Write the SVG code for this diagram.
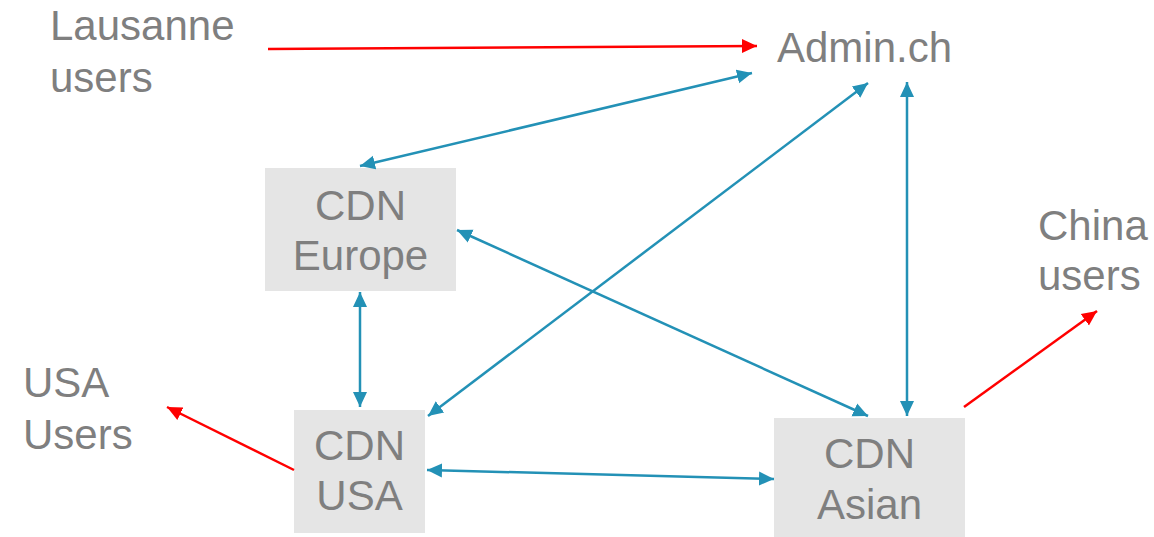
<svg xmlns="http://www.w3.org/2000/svg" width="1154" height="537" viewBox="0 0 1154 537">
<style>
.t{font-family:"Liberation Sans",Arial,sans-serif;font-size:42px;fill:#7f7f7f}
.box{fill:#e5e5e5}
.b{stroke:#2391b6;stroke-width:2.5;fill:none;marker-start:url(#hb);marker-end:url(#hb)}
.r{stroke:#ff0000;stroke-width:2.5;fill:none;marker-end:url(#hr)}
</style>
<defs>
<marker id="hb" markerUnits="userSpaceOnUse" markerWidth="16" markerHeight="16" viewBox="0 0 16 16" refX="15" refY="8" orient="auto-start-reverse"><path d="M0,1 L15,8 L0,15 Z" fill="#2391b6"/></marker>
<marker id="hr" markerUnits="userSpaceOnUse" markerWidth="16" markerHeight="16" viewBox="0 0 16 16" refX="15" refY="8" orient="auto"><path d="M0,1 L15,8 L0,15 Z" fill="#ff0000"/></marker>
</defs>
<g id="lausanne"><text class="t" x="50" y="40">Lausanne</text><text class="t" x="50" y="92">users</text></g>
<g id="admin"><text class="t" x="777" y="62">Admin.ch</text></g>
<g id="china"><text class="t" x="1038" y="240">China</text><text class="t" x="1038" y="290">users</text></g>
<g id="usausers"><text class="t" x="23" y="397">USA</text><text class="t" x="23" y="449">Users</text></g>
<g id="cdneurope"><rect class="box" x="265" y="168" width="191" height="123"/><text class="t" x="360.5" y="220" text-anchor="middle">CDN</text><text class="t" x="360.5" y="270" text-anchor="middle">Europe</text></g>
<g id="cdnusa"><rect class="box" x="294" y="410" width="131" height="123"/><text class="t" x="359.5" y="460" text-anchor="middle">CDN</text><text class="t" x="359.5" y="510" text-anchor="middle">USA</text></g>
<g id="cdnasian"><rect class="box" x="774" y="418" width="191" height="123"/><text class="t" x="869.5" y="468" text-anchor="middle">CDN</text><text class="t" x="869.5" y="519" text-anchor="middle">Asian</text></g>
<g id="connectors">
<line class="r" x1="268" y1="49" x2="757" y2="46"/>
<line class="b" x1="360" y1="166" x2="752" y2="73"/>
<line class="b" x1="428" y1="416" x2="868" y2="83"/>
<line class="b" x1="907" y1="82" x2="907" y2="416"/>
<line class="b" x1="457" y1="230" x2="868" y2="416"/>
<line class="b" x1="360" y1="292" x2="360" y2="407"/>
<line class="b" x1="427" y1="470" x2="774" y2="479"/>
<line class="r" x1="294" y1="470" x2="167" y2="407"/>
<line class="r" x1="964" y1="407" x2="1097" y2="311"/>
</g>
</svg>
